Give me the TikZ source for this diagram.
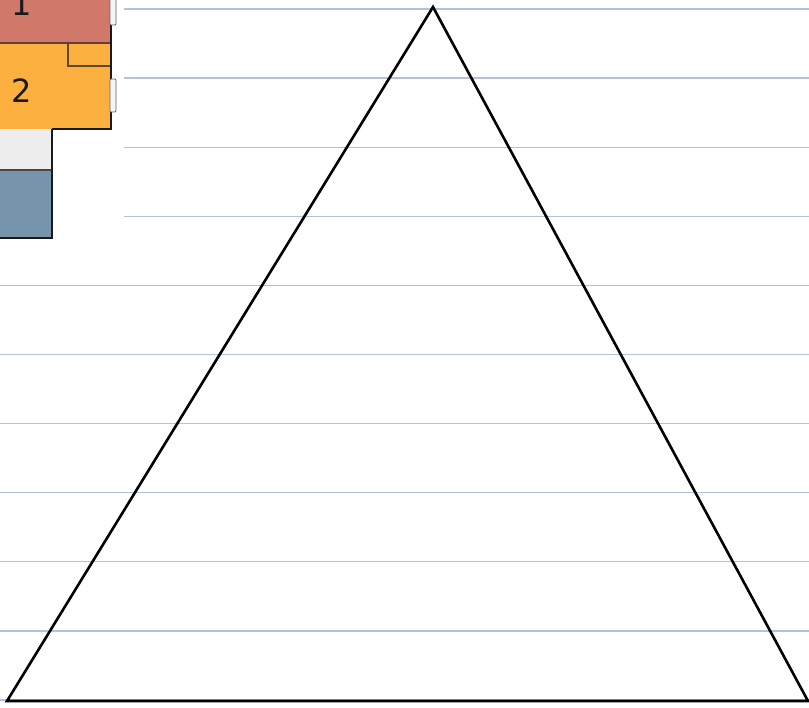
\documentclass[tikz,border=0pt]{standalone}
\usepackage{fontspec}
\setmainfont{DejaVu Sans}
\usepackage{xcolor}
\definecolor{rule}{HTML}{B3C2DC}
\definecolor{brick}{HTML}{D0796A}
\definecolor{amber}{HTML}{FBB040}
\definecolor{paper}{HTML}{EDEDED}
\definecolor{slate}{HTML}{7695AD}
\definecolor{char}{HTML}{1A1A1A}
\usetikzlibrary{positioning}

\begin{document}
\begin{tikzpicture}[x=1pt,y=-1pt]
  \useasboundingbox (0,0) rectangle (809,708);
  % ruled background lines
  \def\gap{69.1}
  \foreach \k in {0,...,10} {
    \pgfmathsetmacro{\yy}{9+\k*\gap}
    \pgfmathsetmacro{\xs}{\k<4 ? 124 : 0}
    \draw[rule,line width=1.3pt] (\xs,\yy) -- (809,\yy);
  }
  % stacked blocks, top left
  \fill[brick] (0,-2) rectangle (111,43);
  \fill[amber] (0,43) rectangle (111,129);
  \draw[char!70!amber,line width=1.6pt] (68,43) -- (68,66) -- (111,66);
  \draw[char!60!brick,line width=1.2pt] (0,43) -- (111,43);
  \draw[char,line width=2.2pt] (111,-2) -- (111,129) -- (52,129);
  \fill[paper] (0,129) rectangle (52,170);
  \fill[slate] (0,170) rectangle (52,238);
  \draw[char!80,line width=1.2pt] (0,170) -- (52,170);
  \draw[char,line width=2.2pt] (52,129) -- (52,238) -- (-2,238);
  % small tabs on the right edge
  \foreach \ya/\yb in {-3/25, 79/112}
    \draw[gray!80!black,fill=white!92!gray,line width=0.9pt,rounded corners=1pt] (110,\ya) rectangle (116,\yb);
  \node[char,font=\fontsize{32}{32}\selectfont,anchor=base] (one) at (22,16) {1};
  \node[char,font=\fontsize{32}{32}\selectfont,anchor=base] (two) at (22,103) {2};
  % big triangle
  \draw[black,line width=2.6pt,line join=miter] (433,7) -- (808,701) -- (7,701) -- cycle;
\end{tikzpicture}
\end{document}
